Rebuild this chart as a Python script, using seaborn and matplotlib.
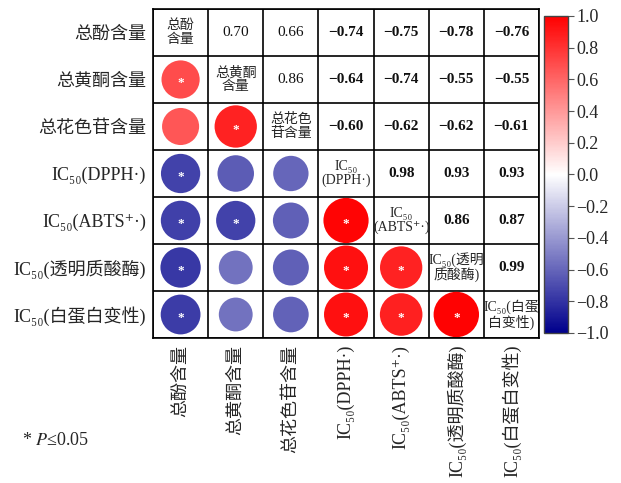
import numpy as np
import pandas as pd
import matplotlib
matplotlib.use("Agg")
import matplotlib.pyplot as plt
import seaborn as sns
from matplotlib.colors import LinearSegmentedColormap, Normalize
from matplotlib.cm import ScalarMappable

# Variables (axis labels) and the two-line labels written on the diagonal
labels = ["总酚含量", "总黄酮含量", "总花色苷含量", "IC₅₀(DPPH·)",
          "IC₅₀(ABTS⁺·)", "IC₅₀(透明质酸酶)", "IC₅₀(白蛋白变性)"]
diag_labels = ["总酚\n含量", "总黄酮\n含量", "总花色\n苷含量", "IC₅₀\n(DPPH·)",
               "IC₅₀\n(ABTS⁺·)", "IC₅₀(透明\n质酸酶)", "IC₅₀(白蛋\n白变性)"]

# Pearson coefficients, upper triangle, one list per row
r_row0 = [0.70, 0.66, -0.74, -0.75, -0.78, -0.76]
r_row1 = [0.86, -0.64, -0.74, -0.55, -0.55]
r_row2 = [-0.60, -0.62, -0.62, -0.61]
r_row3 = [0.98, 0.93, 0.93]
r_row4 = [0.86, 0.87]
r_row5 = [0.99]

# Pairs (row, col) in the lower triangle with P <= 0.05
significant = [(1, 0), (2, 1), (3, 0), (4, 0), (4, 1), (4, 3), (5, 0),
               (5, 3), (5, 4), (6, 0), (6, 3), (6, 4), (6, 5)]

sns.set_theme(style="white")
plt.rcParams["font.family"] = ["Liberation Serif", "Noto Sans CJK SC", "DejaVu Sans"]
plt.rcParams["mathtext.fontset"] = "stix"
plt.rcParams["axes.unicode_minus"] = True

n = len(labels)
corr = np.eye(n)
for i, row in enumerate([r_row0, r_row1, r_row2, r_row3, r_row4, r_row5]):
    for k, v in enumerate(row):
        j = i + 1 + k
        corr[i, j] = v
        corr[j, i] = v

records = []
for i in range(n):
    for j in range(i):
        records.append({"col": j, "row": i, "r": corr[i, j], "absr": abs(corr[i, j])})
df = pd.DataFrame(records)

cmap = LinearSegmentedColormap.from_list(
    "navy_white_red", [(0.0, "#00008c"), (0.5, "#ffffff"), (1.0, "#ff0000")])
norm = Normalize(-1, 1)

fig = plt.figure(figsize=(6.21, 4.83), dpi=100)
ax = fig.add_axes([0.2464, 0.3002, 0.6216, 0.6812])

sns.scatterplot(data=df, x="col", y="row", hue="r", size="absr",
                palette=cmap, hue_norm=norm, sizes=(0, 1080), size_norm=(0, 1),
                linewidth=0, legend=False, ax=ax, zorder=2)

for (i, j) in significant:
    ax.text(j, i + 0.07, "*", color="white", fontsize=9.5, ha="center",
            va="center", fontweight="bold", zorder=3)

# Upper-triangle coefficients
for i in range(n):
    for j in range(i + 1, n):
        weight = "normal" if (i < 3 and j < 3) else "bold"
        ax.text(j, i, f"{corr[i, j]:.2f}".replace("-", "−"), ha="center",
                va="center", fontsize=11, fontweight=weight, color="#111111")

# Diagonal names
for i in range(n):
    ax.text(i, i, diag_labels[i], ha="center", va="center", fontsize=10,
            linespacing=1.1, multialignment="center")

for k in range(n + 1):
    ax.axhline(k - 0.5, color="black", lw=1.2, zorder=1)
    ax.axvline(k - 0.5, color="black", lw=1.2, zorder=1)

ax.set_xlim(-0.5, n - 0.5)
ax.set_ylim(n - 0.5, -0.5)
ax.set_xticks(range(n))
ax.set_yticks(range(n))
ax.set_xticklabels(labels, rotation=90, fontsize=13)
ax.set_yticklabels(labels, fontsize=13)
ax.set_xlabel("")
ax.set_ylabel("")
ax.tick_params(length=0, pad=5)
for s in ax.spines.values():
    s.set_color("black")
    s.set_linewidth(1.2)

# Colour bar
cax = fig.add_axes([0.876, 0.3106, 0.0386, 0.6563])
cb = fig.colorbar(ScalarMappable(norm=norm, cmap=cmap), cax=cax)
ticks = np.round(np.linspace(-1, 1, 11), 1) + 0.0
cb.set_ticks(ticks)
cb.set_ticklabels([f"{t:.1f}".replace("-", "−") for t in ticks])
cb.ax.tick_params(labelsize=13, length=4, width=0.8, color="#555555", direction="out", pad=2)
cb.outline.set_edgecolor("#444444")
cb.outline.set_linewidth(1.0)

fig.text(0.035, 0.089, r"* $\mathit{P}$≤0.05", fontsize=13, ha="left", va="center")

fig.savefig("out.png", dpi=100)
